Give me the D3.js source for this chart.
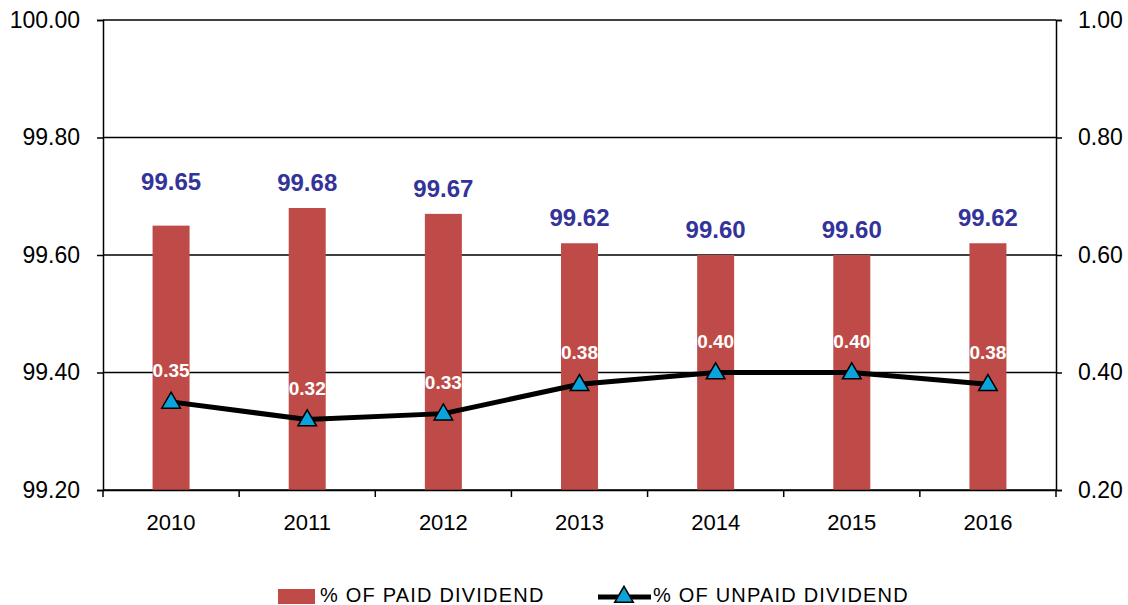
<!DOCTYPE html>
<html><head><meta charset="utf-8">
<script src="https://cdn.jsdelivr.net/npm/d3@7"></script>
<style>body{margin:0;background:#fff}svg{display:block}</style>
</head><body>
<svg id="c" width="1128" height="605"></svg>
<script>
const years = ["2010","2011","2012","2013","2014","2015","2016"];
const paidPct = [99.65, 99.68, 99.67, 99.62, 99.60, 99.60, 99.62];
const unpaidPct = [0.35, 0.32, 0.33, 0.38, 0.40, 0.40, 0.38];
const leftTicks = [99.20, 99.40, 99.60, 99.80, 100.00];
const rightTicks = [0.20, 0.40, 0.60, 0.80, 1.00];
const seriesNames = ["% OF PAID DIVIDEND", "% OF UNPAID DIVIDEND"];

const svg = d3.select("#c");
const m = {l:103, r:1056, t:20, b:490};
const font = "'Liberation Sans', Arial, sans-serif";

const x = d3.scaleBand().domain(years).range([m.l, m.r]);
const yL = d3.scaleLinear().domain([99.2, 100]).range([m.b, m.t]);
const yR = d3.scaleLinear().domain([0.2, 1.0]).range([m.b, m.t]);
const cx = i => x(years[i]) + x.bandwidth()/2;

// gridlines
svg.append("g").selectAll("line").data(leftTicks).join("line")
  .attr("x1", m.l).attr("x2", m.r)
  .attr("y1", d => yL(d)).attr("y2", d => yL(d))
  .attr("stroke", "#000").attr("stroke-width", 1.5);

// bars
const bw = 37;
svg.append("g").selectAll("rect").data(paidPct).join("rect")
  .attr("x", (d,i) => cx(i) - bw/2)
  .attr("width", bw)
  .attr("y", d => yL(d))
  .attr("height", d => m.b - yL(d))
  .attr("fill", "#BE4B48");

// axes
const axL = svg.append("g").attr("transform", `translate(${m.l},0)`)
  .call(d3.axisLeft(yL).tickValues(leftTicks).tickFormat(d3.format(".2f")).tickSize(6).tickPadding(17));
const axR = svg.append("g").attr("transform", `translate(${m.r},0)`)
  .call(d3.axisRight(yR).tickValues(rightTicks).tickFormat(d3.format(".2f")).tickSize(6).tickPadding(16));
const axB = svg.append("g").attr("transform", `translate(0,${m.b})`)
  .call(d3.axisBottom(x).tickSize(0).tickPadding(24));
// category boundary ticks
svg.append("g").selectAll("line").data(years.concat(["end"])).join("line")
  .attr("x1", (d,i) => m.l + i*x.bandwidth()).attr("x2", (d,i) => m.l + i*x.bandwidth())
  .attr("y1", m.b).attr("y2", m.b + 7).attr("stroke", "#000").attr("stroke-width", 1.5);

[axL, axR, axB].forEach(a => {
  a.select(".domain").attr("stroke", "#000").attr("stroke-width", 1.5);
  a.selectAll(".tick line").attr("stroke", "#000").attr("stroke-width", 1.5);
  a.selectAll("text").attr("font-family", font).attr("font-size", 23).attr("fill", "#000");
});
axB.selectAll("text").attr("font-size", 22);
axB.select(".domain").attr("d", `M${m.l},0.5H${m.r}`);

// bar labels (first one sits higher, as in the original)
svg.append("g").selectAll("text").data(paidPct).join("text")
  .attr("x", (d,i) => cx(i))
  .attr("y", (d,i) => yL(d) - (i === 0 ? 36 : 17))
  .attr("text-anchor", "middle")
  .attr("font-family", font).attr("font-weight", "bold").attr("font-size", 24)
  .attr("fill", "#333399")
  .text(d => d3.format(".2f")(d));

// line
const line = d3.line().x((d,i) => cx(i)).y(d => yR(d));
svg.append("path").datum(unpaidPct).attr("d", line)
  .attr("fill", "none").attr("stroke", "#000").attr("stroke-width", 5).attr("stroke-linejoin", "round");

const tri = d3.symbol().type(d3.symbolTriangle).size(150);
svg.append("g").selectAll("path").data(unpaidPct).join("path")
  .attr("d", tri)
  .attr("transform", (d,i) => `translate(${cx(i)},${yR(d)+1})`)
  .attr("fill", "#0BA3DB").attr("stroke", "#000").attr("stroke-width", 1.5);

// line labels (white)
svg.append("g").selectAll("text").data(unpaidPct).join("text")
  .attr("x", (d,i) => cx(i))
  .attr("y", d => yR(d) - 25)
  .attr("text-anchor", "middle")
  .attr("font-family", font).attr("font-weight", "bold").attr("font-size", 19)
  .attr("fill", "#fff")
  .text(d => d3.format(".2f")(d));

// legend
const lg = svg.append("g").attr("font-family", font).attr("font-size", 20).attr("fill", "#000")
  .attr("letter-spacing", 1.2);
lg.append("rect").attr("x", 278).attr("y", 589).attr("width", 37).attr("height", 15).attr("fill", "#BE4B48");
lg.append("text").attr("x", 320).attr("y", 602).text(seriesNames[0]);
lg.append("line").attr("x1", 598).attr("x2", 651).attr("y1", 597).attr("y2", 597)
  .attr("stroke", "#000").attr("stroke-width", 5);
lg.append("path").attr("d", tri).attr("transform", "translate(624,597)")
  .attr("fill", "#0BA3DB").attr("stroke", "#000").attr("stroke-width", 1.5);
lg.append("text").attr("x", 653).attr("y", 602).text(seriesNames[1]);
</script>
</body></html>
